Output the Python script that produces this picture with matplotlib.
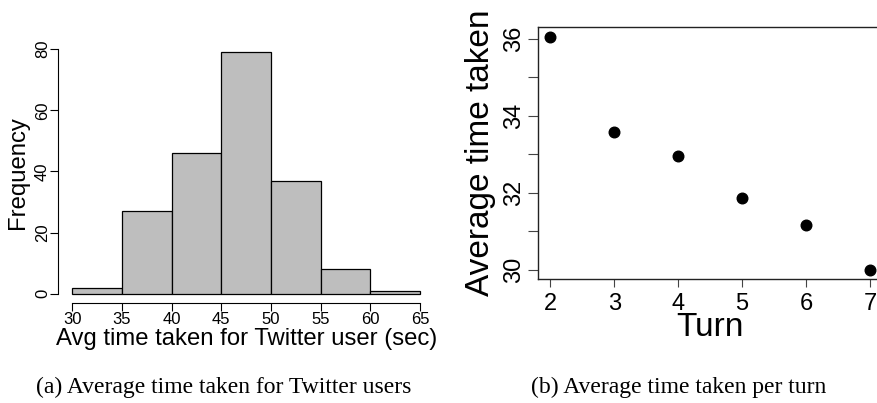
import matplotlib
matplotlib.use('Agg')
import matplotlib.pyplot as plt
import numpy as np

# Histogram of average time per Twitter user
bin_edges = [30, 35, 40, 45, 50, 55, 60, 65]
bin_counts = [2, 27, 46, 79, 37, 8, 1]
hist_yticks = [0, 20, 40, 60, 80]

# Average time taken per turn
turns = [2, 3, 4, 5, 6, 7]
avg_time = [36.05, 33.58, 32.95, 31.85, 31.15, 30.0]
turn_yticks = [30, 31, 32, 33, 34, 35, 36]
turn_ylabels = ['30', '', '32', '', '34', '', '36']

captions = ['(a) Average time taken for Twitter users',
            '(b) Average time taken per turn']

plt.rcParams['font.family'] = ['Liberation Sans', 'DejaVu Sans']

W, H = 877, 403
fig = plt.figure(figsize=(W / 100, H / 100), dpi=100)


def px_axes(x0, y0, x1, y1):
    # axes box given in pixel units, measured from the top-left corner
    return fig.add_axes([x0 / W, 1 - y1 / H, (x1 - x0) / W, (y1 - y0) / H])


# ---- (a) histogram ----
ax1 = px_axes(58.4, 42.6, 434.0, 303.3)
ax1.bar(bin_edges[:-1], bin_counts, width=np.diff(bin_edges), align='edge',
        color='#BEBEBE', edgecolor='black', linewidth=0.9)
lo, hi = bin_edges[0], bin_edges[-1]
padx = 0.04 * (hi - lo)
ax1.set_xlim(lo - padx, hi + padx)
pady = 0.04 * max(bin_counts)
ax1.set_ylim(-pady, max(bin_counts) + pady)
ax1.set_xticks(bin_edges)
ax1.set_yticks(hist_yticks)
ax1.set_yticklabels([str(v) for v in hist_yticks], rotation=90, va='center')
for s in ('top', 'right'):
    ax1.spines[s].set_visible(False)
ax1.spines['left'].set_bounds(hist_yticks[0], hist_yticks[-1])
ax1.spines['bottom'].set_bounds(lo, hi)
for s in ('left', 'bottom'):
    ax1.spines[s].set_linewidth(0.8)
ax1.tick_params(axis='both', direction='out', length=5.5, width=0.8,
                labelsize=12, pad=0.5)
ax1.set_xlabel('Avg time taken for Twitter user (sec)', fontsize=17.2, va='top')
ax1.xaxis.set_label_coords(0.5, -0.094)
ax1.set_ylabel('Frequency', fontsize=17.2, va='center')
ax1.yaxis.set_label_coords(-0.107, 0.5)

# ---- (b) scatter ----
ax2 = px_axes(537.5, 27.3, 882.8, 279.0)
ax2.scatter(turns, avg_time, s=58, color='black', zorder=3)
t0, t1 = min(turns), max(turns)
ax2.set_xlim(t0 - 0.04 * (t1 - t0), t1 + 0.04 * (t1 - t0))
v0, v1 = min(avg_time), max(avg_time)
ax2.set_ylim(v0 - 0.04 * (v1 - v0), v1 + 0.04 * (v1 - v0))
ax2.set_xticks(turns)
ax2.set_yticks(turn_yticks)
ax2.set_yticklabels(turn_ylabels, rotation=90, va='center')
for s in ax2.spines.values():
    s.set_linewidth(1.0)
    s.set_color('#222222')
ax2.tick_params(axis='y', direction='out', length=7, width=0.8,
                color='#444444', labelsize=17, pad=1.8)
ax2.tick_params(axis='x', direction='out', length=5.5, width=0.8,
                color='#444444', labelsize=17, pad=4.5)
ax2.set_xlabel('Turn', fontsize=24, va='top')
ax2.xaxis.set_label_coords(0.5, -0.131)
ax2.set_ylabel('Average time taken', fontsize=24, va='center')
ax2.yaxis.set_label_coords(-0.1665, 0.5)

# ---- captions ----
for x, text in zip([224, 678.5], captions):
    fig.text(x / W, 10 / H, text, ha='center', va='baseline',
             family='Liberation Serif', fontsize=17)

fig.savefig('out.png', dpi=100)
